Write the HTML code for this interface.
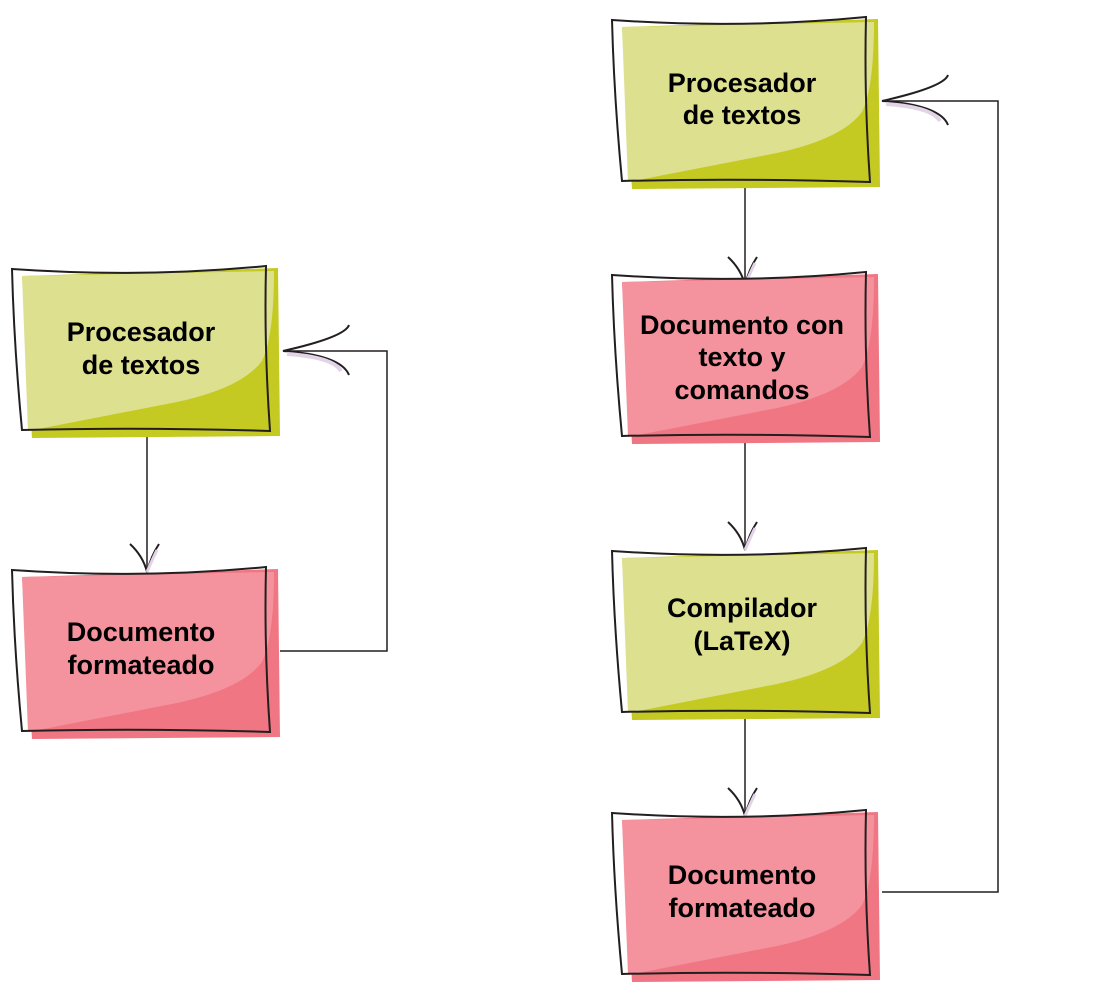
<!DOCTYPE html>
<html><head><meta charset="utf-8"><style>
html,body{margin:0;padding:0;background:#fff;width:1096px;height:995px;overflow:hidden}
text{font-family:"Liberation Sans",Arial,sans-serif;font-weight:bold;font-size:27px;fill:#000;text-anchor:middle}
</style></head><body>
<svg width="1096" height="995" viewBox="0 0 1096 995" xmlns="http://www.w3.org/2000/svg">
<defs>
<g id="green">
<path d="M10,10 L266,2 L268,170 L20,172 Z" fill="#c4ca22"/>
<path d="M10,10 L262,5 Q262,70 250,95 Q230,122 165,136 L16,165 Z" fill="#dde08f"/>
<path d="M0,3 Q130,12 254,0 Q252,80 258,165 Q130,161 10,164 Q2,80 0,3 Z" fill="none" stroke="#231f20" stroke-width="2"/>
</g>
<g id="pink">
<path d="M10,10 L266,2 L268,170 L20,172 Z" fill="#f07683"/>
<path d="M10,10 L262,5 Q262,70 250,95 Q230,122 165,136 L16,165 Z" fill="#f4939d"/>
<path d="M0,3 Q130,12 254,0 Q252,80 258,165 Q130,161 10,164 Q2,80 0,3 Z" fill="none" stroke="#231f20" stroke-width="2"/>
</g>
<g id="arrowdown">
<path d="M-17,-28 Q-4,-16 0,0 Q4,-16 12,-28" fill="none" stroke="#231f20" stroke-width="2"/>
<path d="M0,0 Q6,-14 10,-22" fill="none" stroke="#e3d3e8" stroke-width="3"/>
</g>
<g id="arrowleft">
<path d="M66,-26 Q62,-14 0,0 Q58,4 66,24" fill="none" stroke="#231f20" stroke-width="2"/>
<path d="M4,3 Q50,6 58,20" fill="none" stroke="#e3d3e8" stroke-width="4"/>
</g>
</defs>

<line x1="147" y1="432" x2="147" y2="572" stroke="#231f20" stroke-width="1.5"/>
<use href="#arrowdown" x="147" y="572"/>
<polyline points="280,651 387,651 387,351 283,351" fill="none" stroke="#231f20" stroke-width="1.5"/>
<use href="#arrowleft" x="283" y="351"/>
<use href="#green" x="12" y="266"/>
<text x="141" y="341">Procesador</text><text x="141" y="374">de textos</text>
<use href="#pink" x="12" y="567"/>
<text x="141" y="641">Documento</text><text x="141" y="674">formateado</text>

<line x1="745" y1="185" x2="745" y2="285" stroke="#231f20" stroke-width="1.5"/>
<use href="#arrowdown" x="745" y="285"/>
<line x1="745" y1="440" x2="745" y2="550" stroke="#231f20" stroke-width="1.5"/>
<use href="#arrowdown" x="745" y="550"/>
<line x1="745" y1="712" x2="745" y2="816" stroke="#231f20" stroke-width="1.5"/>
<use href="#arrowdown" x="745" y="816"/>
<polyline points="882,892 998,892 998,101 882,101" fill="none" stroke="#231f20" stroke-width="1.5"/>
<use href="#arrowleft" x="882" y="101"/>

<use href="#green" x="612" y="17"/>
<text x="742" y="92">Procesador</text><text x="742" y="124">de textos</text>
<use href="#pink" x="612" y="272"/>
<text x="742" y="334">Documento con</text><text x="742" y="366">texto y</text><text x="742" y="399">comandos</text>
<use href="#green" x="612" y="548"/>
<text x="742" y="617">Compilador</text><text x="742" y="650">(LaTeX)</text>
<use href="#pink" x="612" y="810"/>
<text x="742" y="884">Documento</text><text x="742" y="917">formateado</text>
</svg>
</body></html>
